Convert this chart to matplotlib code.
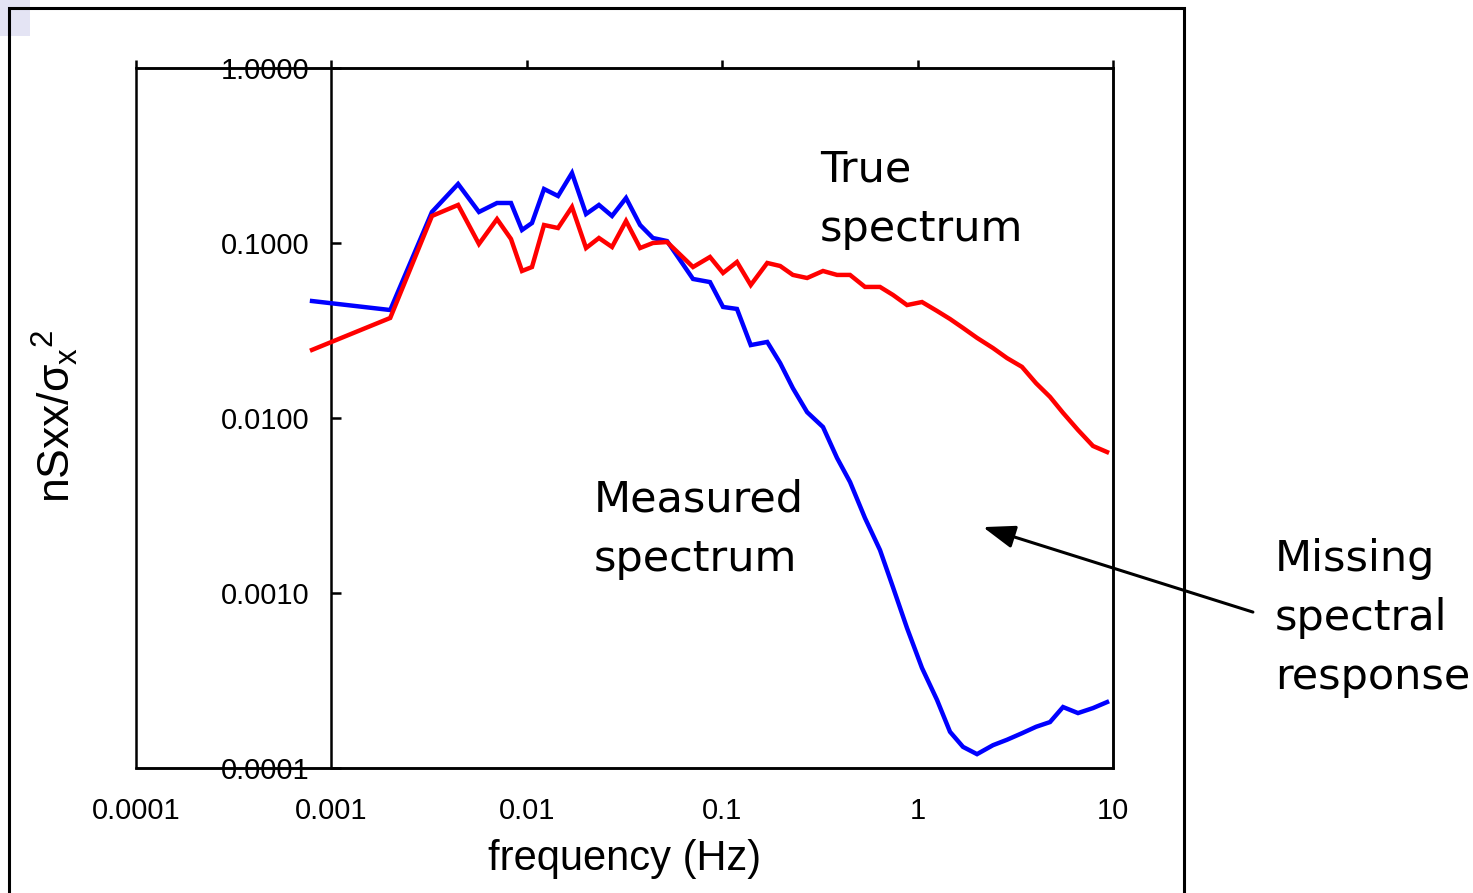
import matplotlib
matplotlib.use("Agg")
import matplotlib.pyplot as plt
from matplotlib.patches import Rectangle
from matplotlib.ticker import FixedLocator, NullLocator, FuncFormatter

plt.rcParams['font.family'] = ['Liberation Sans', 'DejaVu Sans']
plt.rcParams['mathtext.fontset'] = 'custom'
plt.rcParams['mathtext.rm'] = 'Liberation Sans'
plt.rcParams['mathtext.it'] = 'Liberation Sans'
plt.rcParams['mathtext.bf'] = 'Liberation Sans:bold'

# frequencies (Hz), shared by both spectra
freq = [0.000796, 0.0020, 0.00327, 0.00445, 0.00569, 0.00704, 0.0083, 0.00945,
        0.01063, 0.01225, 0.01445, 0.01703, 0.0201, 0.0234, 0.0273, 0.0322,
        0.0380, 0.0442, 0.0522, 0.0709, 0.0866, 0.101, 0.119, 0.140, 0.170,
        0.198, 0.230, 0.272, 0.328, 0.387, 0.451, 0.538, 0.642, 0.748, 0.883,
        1.053, 1.257, 1.465, 1.708, 2.014, 2.431, 2.868, 3.42, 4.04, 4.76,
        5.55, 6.62, 7.90, 9.32]

true_spec = [0.0245, 0.0373, 0.1427, 0.165, 0.0987, 0.137, 0.1054, 0.0692,
             0.0729, 0.1267, 0.1218, 0.1606, 0.0936, 0.1068, 0.0949, 0.1336,
             0.0936, 0.1, 0.1013, 0.0729, 0.0832, 0.0674, 0.0779, 0.0575, 0.0769,
             0.0739, 0.0657, 0.0631, 0.0692, 0.0657, 0.0657, 0.0561, 0.0561,
             0.0505, 0.0442, 0.046, 0.0409, 0.0368, 0.0327, 0.0287, 0.0251,
             0.022, 0.0196, 0.0158, 0.0132, 0.0107, 0.00854, 0.00692, 0.00639]

measured_spec = [0.0466, 0.0414, 0.1504, 0.2174, 0.1504, 0.1693, 0.1693, 0.1187,
                 0.1301, 0.2035, 0.1856, 0.2512, 0.1464, 0.165, 0.1427, 0.1808,
                 0.1267, 0.1068, 0.1026, 0.0623, 0.0598, 0.0431, 0.042, 0.0261,
                 0.0272, 0.0206, 0.0148, 0.0108, 0.00888, 0.00591, 0.00431,
                 0.00268, 0.00176, 0.00108, 0.00063, 0.000373, 0.000245,
                 0.000161, 0.000132, 0.00012, 0.000135, 0.000145, 0.000158,
                 0.000172, 0.000183, 0.000223, 0.000206, 0.00022, 0.000238]

x_ticks = [0.0001, 0.001, 0.01, 0.1, 1, 10]
x_labels = ['0.0001', '0.001', '0.01', '0.1', '1', '10']
y_ticks = [0.0001, 0.001, 0.01, 0.1, 1.0]

fig = plt.figure(figsize=(14.73, 8.93), dpi=100)

# faint corner shading and the outer slide frame
fig.add_artist(Rectangle((0, 1 - 36 / 893), 30 / 1473, 36 / 893, transform=fig.transFigure,
                         facecolor='#e4e4f4', edgecolor='none', zorder=0))
fig.add_artist(Rectangle((9 / 1473, -0.02), 1175 / 1473, 1 - 8 / 893 + 0.02,
                         transform=fig.transFigure, fill=False, edgecolor='black',
                         lw=2.2, zorder=1))

ax = fig.add_axes([136 / 1473, 1 - 768 / 893, 977 / 1473, 700 / 893])
ax.set_xscale('log')
ax.set_yscale('log')
ax.set_xlim(0.0001, 10)
ax.set_ylim(0.0001, 1)

ax.plot(freq, measured_spec, color='#0000ff', lw=3.2, solid_joinstyle='miter', zorder=3)
ax.plot(freq, true_spec, color='#ff0000', lw=3.2, solid_joinstyle='miter', zorder=4)

# y axis crosses at 0.001, box drawn around the plot area
ax.spines['left'].set_position(('data', 0.001))
for s in ax.spines.values():
    s.set_linewidth(1.8)
ax.add_patch(Rectangle((0, 0), 1, 1, transform=ax.transAxes, fill=False,
                       edgecolor='black', lw=1.8, clip_on=False, zorder=5))

ax.xaxis.set_major_locator(FixedLocator(x_ticks))
ax.xaxis.set_minor_locator(NullLocator())
ax.set_xticklabels(x_labels)
ax.tick_params(axis='x', which='major', top=True, bottom=False, labeltop=False,
               labelbottom=True, direction='out', length=6, width=1.8,
               labelsize=21, pad=15)

ax.yaxis.set_major_locator(FixedLocator(y_ticks))
ax.yaxis.set_minor_locator(NullLocator())
ax.yaxis.set_major_formatter(FuncFormatter(lambda v, p: '%.4f' % v))
ax.tick_params(axis='y', which='major', direction='in', length=7.5, width=1.8,
               labelsize=21, pad=16)

ax.set_xlabel('frequency (Hz)', fontsize=30, labelpad=10)
fig.text(55 / 1473, 1 - 416 / 893, r'nSxx/$\sigma_{\mathrm{x}}{}^{2}$', rotation=90,
         fontsize=32, ha='center', va='center')

ann = dict(fontsize=31, family=['DejaVu Sans'], ha='left', va='top', linespacing=1.52)
fig.text(820 / 1473, 1 - 149 / 893, 'True\nspectrum', **ann)
fig.text(594 / 1473, 1 - 479 / 893, 'Measured\nspectrum', **ann)
fig.text(1275 / 1473, 1 - 538 / 893, 'Missing\nspectral\nresponse', **ann)

ax.annotate('', xy=(2.16, 0.00238), xytext=(52.0, 0.000778),
            arrowprops=dict(arrowstyle='-|>,head_length=0.7,head_width=0.25', lw=2.2,
                            color='black', mutation_scale=28, shrinkA=0, shrinkB=0),
            annotation_clip=False)

fig.savefig('out.png', dpi=100)
